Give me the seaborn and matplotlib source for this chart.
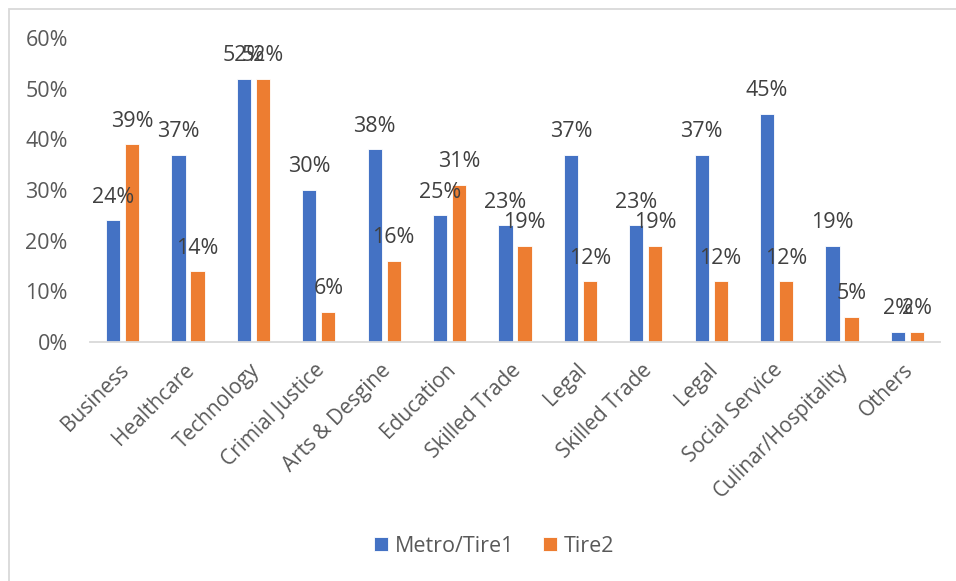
import numpy as np
import pandas as pd
import matplotlib
matplotlib.use("Agg")
import matplotlib.pyplot as plt
from matplotlib.patches import Rectangle
from matplotlib.ticker import PercentFormatter
from matplotlib.transforms import ScaledTranslation
import seaborn as sns

# Career interest by region type (percent of respondents)
categories = ["Business", "Healthcare", "Technology", "Crimial Justice", "Arts & Desgine",
              "Education", "Skilled Trade", "Legal", "Skilled Trade", "Legal",
              "Social Service", "Culinar/Hospitality", "Others"]
metro_tire1 = [24, 37, 52, 30, 38, 25, 23, 37, 23, 37, 45, 19, 2]
tire2 = [39, 14, 52, 6, 16, 31, 19, 12, 19, 12, 12, 5, 2]
series_names = ["Metro/Tire1", "Tire2"]
y_ticks = [0, 10, 20, 30, 40, 50, 60]

sns.set_style("white")
plt.rcParams["font.family"] = ["Open Sans", "DejaVu Sans"]

TEXT = "#595959"
LABEL = "#404040"
BLUE = "#4472C4"
ORANGE = "#ED7D31"
GRID = "#D9D9D9"
FS = 15.5

# Long-form table; position index keeps repeated category names distinct
n = len(categories)
df = pd.DataFrame({
    "pos": list(range(n)) * 2,
    "value": metro_tire1 + tire2,
    "series": [series_names[0]] * n + [series_names[1]] * n,
})

fig = plt.figure(figsize=(9.56, 5.81), dpi=100)
ax = fig.add_axes([90 / 956, 1 - 342 / 581, 850 / 956, 304 / 581])

sns.barplot(data=df, x="pos", y="value", hue="series", hue_order=series_names,
            palette=[BLUE, ORANGE], saturation=1, width=0.58, gap=0.25, dodge=True,
            edgecolor="white", linewidth=0.6, ax=ax, legend=True)

ax.set_ylim(0, 60)
ax.set_xlim(-0.5, n - 0.5)
ax.set_yticks(y_ticks)
ax.yaxis.set_major_formatter(PercentFormatter(decimals=0))
ax.set_xticks(range(n))
ax.set_xticklabels(categories, rotation=45, ha="right", va="center",
                   rotation_mode="anchor")
ax.tick_params(axis="x", length=0, pad=18, labelsize=15, labelcolor=TEXT)
ax.tick_params(axis="y", length=0, pad=16, labelsize=FS, labelcolor=TEXT)
ax.set_xlabel("")
ax.set_ylabel("")
# nudge rotated category labels slightly right
shift = ScaledTranslation(3 / 100, 0, fig.dpi_scale_trans)
for lbl in ax.get_xticklabels():
    lbl.set_transform(lbl.get_transform() + shift)

for side in ("top", "right", "left"):
    ax.spines[side].set_visible(False)
ax.spines["bottom"].set_color(GRID)
ax.spines["bottom"].set_linewidth(1.3)

# Value labels above each bar
for container, vals in zip(ax.containers, [metro_tire1, tire2]):
    ax.bar_label(container, labels=[f"{v}%" for v in vals], padding=9,
                 fontsize=FS, color=LABEL)

# Legend below the plot
handles, labels = ax.get_legend_handles_labels()
ax.legend(handles, labels, loc="center", bbox_to_anchor=(494 / 956, 1 - 546 / 581),
          bbox_transform=fig.transFigure, ncol=2, frameon=False, fontsize=FS,
          labelcolor=TEXT, handlelength=0.65, handleheight=0.65,
          handletextpad=0.3, columnspacing=1.35)

# Chart-area border
fig.patches.append(Rectangle((9 / 956, -0.05), 1.2, 1 - 9 / 581 + 0.05,
                             transform=fig.transFigure, fill=False,
                             edgecolor=GRID, linewidth=1.3, zorder=0))

fig.savefig("out.png", dpi=100)
